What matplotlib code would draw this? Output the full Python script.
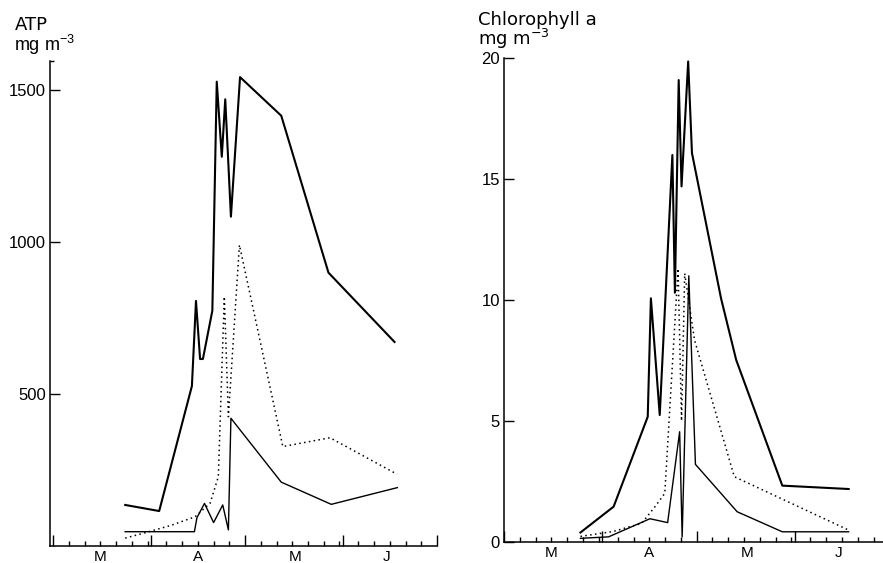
import matplotlib
matplotlib.use("Agg")
import matplotlib.pyplot as plt

plt.rcParams["font.family"] = ["Liberation Sans", "DejaVu Sans"]
plt.rcParams["mathtext.default"] = "regular"

# days counted from 1 March
# ATP (mg m-3)
atp_hi_day = [22.9, 33.7, 44.1, 45.4, 46.7, 47.6, 50.6, 52.0, 53.6, 54.7, 56.5, 59.4, 72.5, 87.5, 108.5]
atp_hi = [135, 115, 526, 806, 615, 615, 774, 1527, 1280, 1469, 1083, 1542, 1415, 899, 671]

atp_lo_day = [22.9, 44.9, 45.7, 48.1, 51.0, 53.9, 55.7, 56.5, 72.5, 88.4, 109.4]
atp_lo = [47, 47, 93, 140, 77, 135, 53, 420, 210, 137, 192]

atp_dot_day = [22.9, 28.7, 37.2, 45.1, 49.9, 52.5, 54.4, 55.7, 59.2, 73.0, 88.0, 109.3]
atp_dot = [26, 42, 67, 96, 141, 228, 820, 425, 990, 327, 356, 236]

# Chlorophyll a (mg m-3)
chl_hi_day = [24.2, 34.7, 45.5, 46.5, 49.3, 53.3, 54.1, 55.3, 56.2, 58.3, 59.5, 68.7, 73.5, 88.1, 109.1]
chl_hi = [0.38, 1.45, 5.17, 10.07, 5.24, 16.0, 10.3, 19.1, 14.7, 19.87, 16.08, 10.07, 7.52, 2.32, 2.18]

chl_lo_day = [24.2, 33.1, 46.2, 51.8, 55.6, 56.4, 58.5, 60.6, 73.8, 88.1, 109.1]
chl_lo = [0.14, 0.2, 0.95, 0.79, 4.55, 0.2, 11.0, 3.2, 1.24, 0.41, 0.41]

chl_dot_day = [24.2, 34.5, 43.6, 47.8, 50.9, 55.1, 56.2, 57.2, 60.3, 72.9, 109.1]
chl_dot = [0.22, 0.42, 0.76, 1.45, 2.0, 11.3, 5.0, 11.1, 8.35, 2.69, 0.48]

# axis ticks: first of month (long) and every 5 days after it (short)
month_starts = [0, 31, 61, 92, 122]
month_days = [31, 30, 31, 30]
month_names = ["M", "A", "M", "J"]
month_mid = [15, 46, 77, 106]

short_ticks = []
for start, n in zip(month_starts[:-1], month_days):
    for d in range(5, n, 5):
        short_ticks.append(start + d)

fig = plt.figure(figsize=(8.83, 5.63), dpi=100)
ax1 = fig.add_axes([50 / 883, 17 / 563, 387 / 883, 485 / 563])
ax2 = fig.add_axes([504 / 883, 21.3 / 563, 385.4 / 883, 483.4 / 563])


def style(ax, xlim, ylim, yticks, ylabels):
    ax.set_xlim(*xlim)
    ax.set_ylim(*ylim)
    for s in ["top", "right"]:
        ax.spines[s].set_visible(False)
    for s in ["left", "bottom"]:
        ax.spines[s].set_linewidth(1.1)
    ax.set_xticks(month_starts)
    ax.set_xticks(short_ticks, minor=True)
    ax.set_xticklabels([])
    ax.tick_params(axis="x", which="major", direction="in", length=8, width=1.0)
    ax.tick_params(axis="x", which="minor", direction="in", length=3.5, width=1.0)
    ax.set_yticks(yticks)
    ax.set_yticklabels(ylabels)
    ax.tick_params(axis="y", which="major", direction="in", length=7, width=1.0,
                   labelsize=12, pad=3)
    for x, name in zip(month_mid, month_names):
        ax.text(x, -0.009, name, transform=ax.get_xaxis_transform(),
                ha="center", va="top", fontsize=11)


style(ax1, (-1, 122), (0, 1595), [500, 1000, 1500], ["500", "1000", "1500"])
ax1.set_yticks([1595], minor=True)
ax1.tick_params(axis="y", which="minor", direction="in", length=3, width=1.0)
style(ax2, (0.8, 122), (0, 20), [0, 5, 10, 15, 20], ["0", "5", "10", "15", "20"])

dots = (0, (1, 2.2))
ax1.plot(atp_hi_day, atp_hi, color="black", lw=1.5)
ax1.plot(atp_lo_day, atp_lo, color="black", lw=1.0)
ax1.plot(atp_dot_day, atp_dot, color="black", lw=1.1, linestyle=dots)

ax2.plot(chl_hi_day, chl_hi, color="black", lw=1.5)
ax2.plot(chl_lo_day, chl_lo, color="black", lw=1.0)
ax2.plot(chl_dot_day, chl_dot, color="black", lw=1.1, linestyle=dots)

# axis titles, drawn with a wider face than the tick labels
fig.text(15 / 883, 1 - 25 / 563, "ATP", fontsize=13, va="center", ha="left",
         family="DejaVu Sans")
fig.text(14 / 883, 1 - 45 / 563, "mg m$^{-3}$", fontsize=13, va="center", ha="left")
fig.text(478 / 883, 1 - 20 / 563, "Chlorophyll a", fontsize=13, va="center", ha="left",
         family="DejaVu Sans")
fig.text(478 / 883, 1 - 39 / 563, "mg m$^{-3}$", fontsize=13, va="center", ha="left",
         family="DejaVu Sans")

fig.savefig("out.png", dpi=100)
